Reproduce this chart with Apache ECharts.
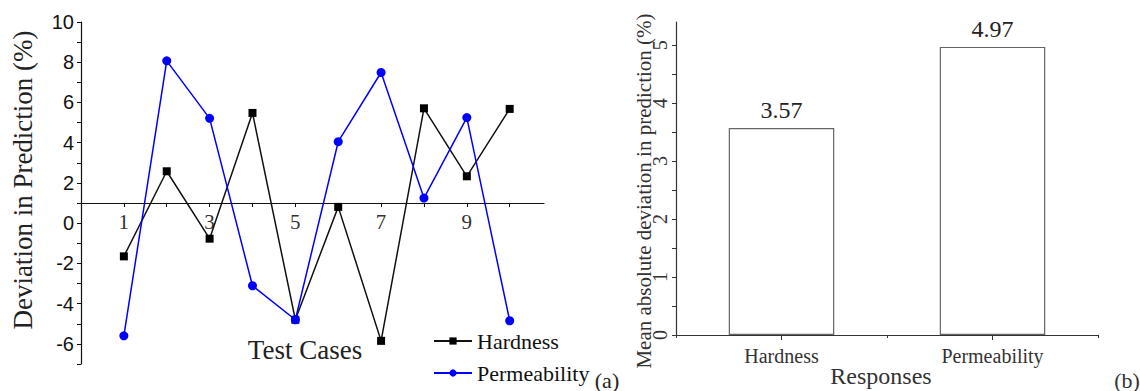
<!DOCTYPE html>
<html><head><meta charset="utf-8">
<script src="https://cdn.jsdelivr.net/npm/echarts@6/dist/echarts.min.js"></script>
<style>html,body{margin:0;padding:0;background:#fff}#c{width:1140px;height:391px}</style>
</head><body><div id="c"></div>
<script>
// ---- data ----
const testCases = [1, 2, 3, 4, 5, 6, 7, 8, 9, 10];
const hardnessDev = [-1.65, 2.58, -0.77, 5.48, -4.8, 0.81, -5.85, 5.71, 2.33, 5.68];
const permeabilityDev = [-5.6, 8.07, 5.21, -3.11, -4.8, 4.05, 7.49, 1.25, 5.25, -4.85];
const responses = ['Hardness', 'Permeability'];
const meanAbsDev = [3.57, 4.97];
const leftYTickLabels = [-6, -4, -2, 0, 2, 4, 6, 8, 10];
const leftXTickLabels = [1, 3, 5, 7, 9];
const leftXTicks = [0, 1, 2, 3, 4, 5, 6, 7, 8, 9, 10];
const rightYTickLabels = [0, 1, 2, 3, 4, 5];
const rightYTicks = [0, 0.5, 1, 1.5, 2, 2.5, 3, 3.5, 4, 4.5, 5];

// ---- layout ----
const serif = "'Liberation Serif','Times New Roman',serif";
const sans = "'Liberation Sans',Arial,sans-serif";
const L = {left: 81, top: 22, width: 463, height: 342, yMin: -7, yMax: 10, xMax: 10.8, xCross: 1};
const R = {left: 676, top: 22, width: 422, height: 313, yMax: 5.4};
const xAxisOffset = -(L.xCross - L.yMin) * L.height / (L.yMax - L.yMin);
const legendCommon = {
  orient: 'vertical', left: 428, itemWidth: 38, itemHeight: 9,
  formatter: '{s|{name}}',
  textStyle: {
    fontFamily: serif, fontSize: 22, color: '#111',
    rich: {s: {fontFamily: serif, fontSize: 22, color: '#111', lineHeight: 22}}
  }
};

const chart = echarts.init(document.getElementById('c'), null, {renderer: 'svg'});
chart.setOption({
  animation: false,
  backgroundColor: '#fff',
  textStyle: {fontFamily: serif},
  grid: [
    {left: L.left, top: L.top, width: L.width, height: L.height, containLabel: false},
    {left: R.left, top: R.top, width: R.width, height: R.height, containLabel: false}
  ],
  xAxis: [
    {
      gridIndex: 0, type: 'value', min: 0, max: L.xMax, interval: 1,
      position: 'bottom', offset: xAxisOffset,
      axisLine: {onZero: false, lineStyle: {color: '#111', width: 1.2}},
      axisTick: {show: true, length: 4, customValues: leftXTicks, lineStyle: {color: '#111'}},
      axisLabel: {
        customValues: leftXTickLabels, margin: 8,
        formatter: v => (leftXTickLabels.indexOf(v) >= 0 ? String(v) : ''),
        fontFamily: serif, fontSize: 21, color: '#333'
      },
      splitLine: {show: false}
    },
    {
      gridIndex: 1, type: 'category', data: responses, position: 'bottom',
      axisLine: {lineStyle: {color: '#333', width: 1.2}},
      axisTick: {show: true, alignWithLabel: true, length: 5, lineStyle: {color: '#333'}},
      axisLabel: {fontFamily: serif, fontSize: 20, color: '#333', margin: 11},
      splitLine: {show: false}
    },
    {
      gridIndex: 1, type: 'category', data: responses, position: 'bottom',
      axisLine: {show: false},
      axisTick: {show: true, length: 3, lineStyle: {color: '#333'}},
      axisLabel: {show: false},
      splitLine: {show: false}
    }
  ],
  yAxis: [
    {
      gridIndex: 0, type: 'value', min: L.yMin, max: L.yMax, interval: 1,
      axisLine: {show: true, onZero: false, lineStyle: {color: '#111', width: 1.2}},
      axisTick: {show: true, length: 4, lineStyle: {color: '#111'}},
      axisLabel: {
        formatter: v => (leftYTickLabels.indexOf(v) >= 0 ? String(v) : ''),
        fontFamily: sans, fontSize: 20, color: '#111', margin: 7
      },
      splitLine: {show: false}
    },
    {
      gridIndex: 1, type: 'value', min: 0, max: R.yMax, interval: 0.5,
      axisLine: {show: true, lineStyle: {color: '#333', width: 1.2}},
      axisTick: {show: true, length: 4, customValues: rightYTicks, lineStyle: {color: '#333'}},
      axisLabel: {
        customValues: rightYTickLabels, rotate: 90, margin: 6,
        formatter: v => (rightYTickLabels.indexOf(v) >= 0 ? String(v) : ''),
        fontFamily: serif, fontSize: 20, color: '#333'
      },
      splitLine: {show: false}
    }
  ],
  legend: [
    Object.assign({top: 325, data: ['Hardness']}, legendCommon),
    Object.assign({top: 357, data: ['Permeability']}, legendCommon)
  ],
  series: [
    {
      name: 'Hardness', type: 'line', xAxisIndex: 0, yAxisIndex: 0,
      data: testCases.map((c, i) => [c, hardnessDev[i]]),
      symbol: 'rect', symbolSize: 8,
      lineStyle: {color: '#111', width: 1.5}, itemStyle: {color: '#000'}
    },
    {
      name: 'Permeability', type: 'line', xAxisIndex: 0, yAxisIndex: 0,
      data: testCases.map((c, i) => [c, permeabilityDev[i]]),
      symbol: 'circle', symbolSize: 9,
      lineStyle: {color: '#0000ff', width: 1.5}, itemStyle: {color: '#0000ff'}
    },
    {
      name: 'MAD', type: 'bar', xAxisIndex: 1, yAxisIndex: 1,
      data: meanAbsDev, barWidth: '50%',
      itemStyle: {color: '#fff', borderColor: '#666', borderWidth: 1.2},
      label: {
        show: true, position: 'top', distance: 6,
        formatter: p => p.value.toFixed(2),
        fontFamily: serif, fontSize: 24, color: '#222'
      }
    }
  ],
  graphic: [
    {type: 'text', x: 23, y: 180, rotation: Math.PI / 2,
     style: {text: 'Deviation in Prediction (%)', font: '27px ' + serif, fill: '#222', align: 'center', verticalAlign: 'middle'}},
    {type: 'text', x: 305, y: 350,
     style: {text: 'Test Cases', font: '27px ' + serif, fill: '#222', align: 'center', verticalAlign: 'middle'}},
    {type: 'text', x: 607, y: 380,
     style: {text: '(a)', font: '22px ' + serif, fill: '#222', align: 'center', verticalAlign: 'middle'}},
    {type: 'text', x: 644, y: 191, rotation: Math.PI / 2,
     style: {text: 'Mean absolute deviation in prediction (%)', font: '21px ' + serif, fill: '#333', align: 'center', verticalAlign: 'middle'}},
    {type: 'text', x: 881, y: 376,
     style: {text: 'Responses', font: '24px ' + serif, fill: '#333', align: 'center', verticalAlign: 'middle'}},
    {type: 'text', x: 1127, y: 380,
     style: {text: '(b)', font: '22px ' + serif, fill: '#333', align: 'center', verticalAlign: 'middle'}}
  ]
});
</script>
</body></html>
